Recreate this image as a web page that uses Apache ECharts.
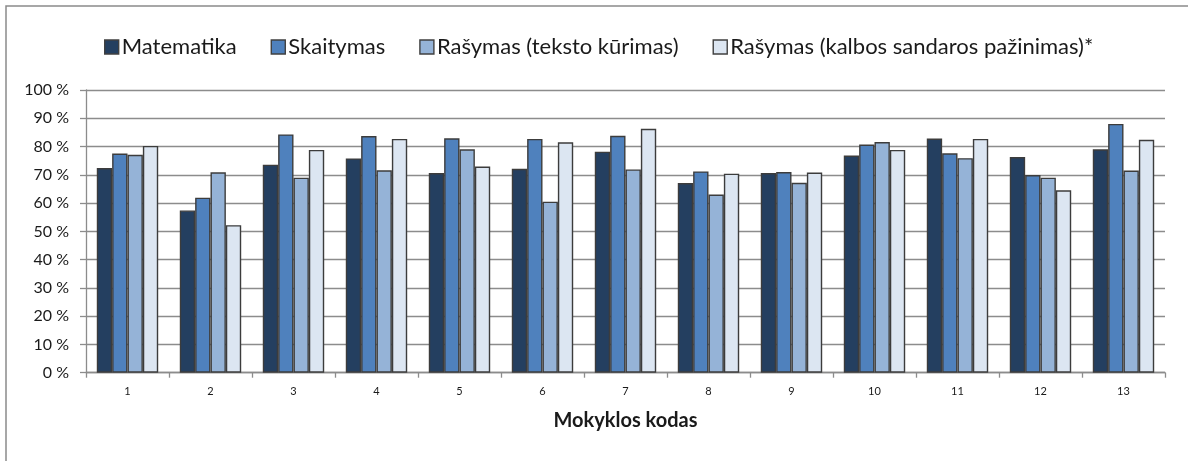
<!DOCTYPE html>
<html>
<head>
<meta charset="utf-8">
<script src="https://cdn.jsdelivr.net/npm/echarts@6/dist/echarts.min.js"></script>
<style>
  html, body { margin: 0; padding: 0; background: #ffffff; }
  #chart { width: 1188px; height: 461px; }
</style>
</head>
<body>
<div id="chart"></div>
<script>
// School codes on the category axis
const schoolCodes = ['1', '2', '3', '4', '5', '6', '7', '8', '9', '10', '11', '12', '13'];

// Percentage results per subject
const matematika = [72.4, 57.4, 73.6, 75.8, 70.6, 72.1, 78.2, 67.1, 70.6, 76.8, 82.8, 76.3, 79.0];
const skaitymas = [77.5, 61.9, 84.3, 83.7, 82.9, 82.7, 83.8, 71.2, 71.0, 80.7, 77.6, 69.9, 88.0];
const rasymasTeksto = [77.1, 70.9, 69.0, 71.6, 79.0, 60.5, 71.9, 63.0, 67.2, 81.6, 75.9, 69.0, 71.5];
const rasymasKalbos = [80.2, 52.2, 78.8, 82.7, 72.9, 81.5, 86.3, 70.4, 70.8, 78.8, 82.7, 64.5, 82.4];

const seriesNames = [
  'Matematika',
  'Skaitymas',
  'Rašymas (teksto kūrimas)',
  'Rašymas (kalbos sandaros pažinimas)*'
];
const seriesColors = ['#243F60', '#4F81BD', '#95B3D7', '#DCE6F2'];
const seriesData = [matematika, skaitymas, rasymasTeksto, rasymasKalbos];

const font = 'Lato, "Noto Sans", sans-serif';
const chart = echarts.init(document.getElementById('chart'), null, { renderer: 'canvas' });

chart.setOption({
  backgroundColor: '#ffffff',
  animation: false,
  textStyle: { fontFamily: font, color: '#1a1a1a' },
  graphic: [{
    type: 'rect',
    shape: { x: 6, y: 6, width: 1400, height: 1000 },
    style: { fill: 'none', stroke: '#8a8a8a', lineWidth: 1.5 },
    silent: true,
    z: -10
  }],
  legend: {
    left: 99,
    top: 31,
    itemWidth: 14,
    itemHeight: 14,
    itemGap: 34,
    icon: 'rect',
    itemStyle: { borderColor: '#404040', borderWidth: 1.4 },
    textStyle: { fontFamily: font, fontSize: 22, color: '#1a1a1a', padding: [0, 0, 0, -2] },
    data: seriesNames
  },
  grid: { left: 86, right: 23, top: 90, bottom: 88.3, containLabel: false },
  xAxis: {
    type: 'category',
    data: schoolCodes,
    boundaryGap: true,
    name: 'Mokyklos kodas',
    nameLocation: 'middle',
    nameGap: 38,
    nameTextStyle: { fontFamily: font, fontSize: 20, fontWeight: 'bold', color: '#1a1a1a' },
    axisLine: { lineStyle: { color: '#8c8c8c', width: 1.3 } },
    axisTick: { show: true, length: 5, lineStyle: { color: '#8c8c8c', width: 1.3 } },
    axisLabel: { fontFamily: font, fontSize: 11, color: '#1a1a1a', margin: 13 },
    splitLine: { show: false }
  },
  yAxis: {
    type: 'value',
    min: 0,
    max: 100,
    interval: 10,
    axisLine: { show: true, lineStyle: { color: '#8c8c8c', width: 1.3 } },
    axisTick: { show: true, length: 6, lineStyle: { color: '#8c8c8c', width: 1.3 } },
    axisLabel: { fontFamily: font, fontSize: 16, color: '#1a1a1a', margin: 17, formatter: '{value} %' },
    splitLine: { show: true, lineStyle: { color: '#8c8c8c', width: 1.3 } }
  },
  series: seriesNames.map((name, i) => ({
    name: name,
    type: 'bar',
    data: seriesData[i],
    barGap: '0%',
    barCategoryGap: '26%',
    itemStyle: { color: seriesColors[i], borderColor: '#3c3c3c', borderWidth: 1.4 }
  }))
});
</script>
</body>
</html>
